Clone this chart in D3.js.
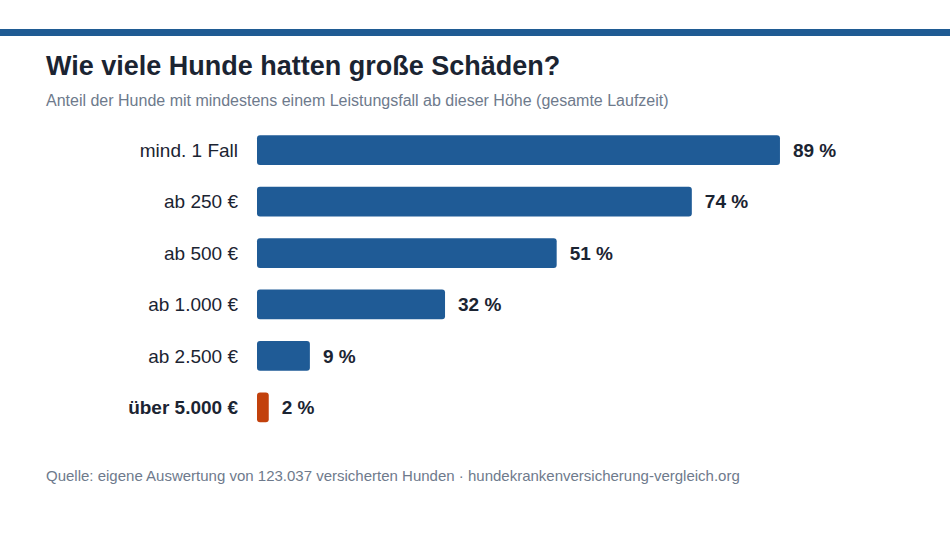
<!DOCTYPE html>
<html>
<head>
<meta charset="utf-8">
<script src="https://cdn.jsdelivr.net/npm/d3@7"></script>
<style>
  body { margin: 0; background: #fff; font-family: "Liberation Sans", Arial, sans-serif; }
</style>
</head>
<body>
<script>
// data
var categories = ['mind. 1 Fall', 'ab 250 €', 'ab 500 €', 'ab 1.000 €', 'ab 2.500 €', 'über 5.000 €'];
var shares = [89, 74, 51, 32, 9, 2];
var highlight = ['über 5.000 €'];

var width = 950, height = 533;

var svg = d3.select('body').append('svg')
    .attr('width', width)
    .attr('height', height);

svg.append('rect')
    .attr('x', 0).attr('y', 29)
    .attr('width', width).attr('height', 7)
    .attr('fill', '#1f5b93');

svg.append('text')
    .attr('x', 46).attr('y', 75)
    .attr('font-size', 27).attr('font-weight', 'bold')
    .attr('fill', '#1b2432')
    .text('Wie viele Hunde hatten große Schäden?');

svg.append('text')
    .attr('x', 46).attr('y', 106)
    .attr('font-size', 16).attr('fill', '#6e7a8c')
    .text('Anteil der Hunde mit mindestens einem Leistungsfall ab dieser Höhe (gesamte Laufzeit)');

var x = d3.scaleLinear().domain([0, 100]).range([257, 844.6]);
var y = d3.scaleBand().domain(categories).range([124.5, 433]).paddingInner(0.42).paddingOuter(0.21);

var rows = svg.selectAll('g.row')
    .data(categories)
    .enter().append('g')
    .attr('class', 'row');

rows.append('rect')
    .attr('x', x(0))
    .attr('y', function (d) { return y(d); })
    .attr('width', function (d, i) { return x(shares[i]) - x(0); })
    .attr('height', y.bandwidth())
    .attr('rx', 3)
    .attr('fill', function (d) { return highlight.indexOf(d) >= 0 ? '#c2410c' : '#1f5b96'; });

rows.append('text')
    .attr('x', 238)
    .attr('y', function (d) { return y(d) + y.bandwidth() / 2; })
    .attr('dy', '0.35em')
    .attr('text-anchor', 'end')
    .attr('font-size', 19)
    .attr('font-weight', function (d) { return highlight.indexOf(d) >= 0 ? 'bold' : 'normal'; })
    .attr('fill', '#1b2432')
    .text(function (d) { return d; });

rows.append('text')
    .attr('x', function (d, i) { return x(shares[i]) + 13; })
    .attr('y', function (d) { return y(d) + y.bandwidth() / 2; })
    .attr('dy', '0.35em')
    .attr('font-size', 19)
    .attr('font-weight', 'bold')
    .attr('fill', '#1b2432')
    .text(function (d, i) { return shares[i] + ' %'; });

svg.append('text')
    .attr('x', 46).attr('y', 481)
    .attr('font-size', 15).attr('fill', '#6e7a8c')
    .text('Quelle: eigene Auswertung von 123.037 versicherten Hunden · hundekrankenversicherung-vergleich.org');
</script>
</body>
</html>
